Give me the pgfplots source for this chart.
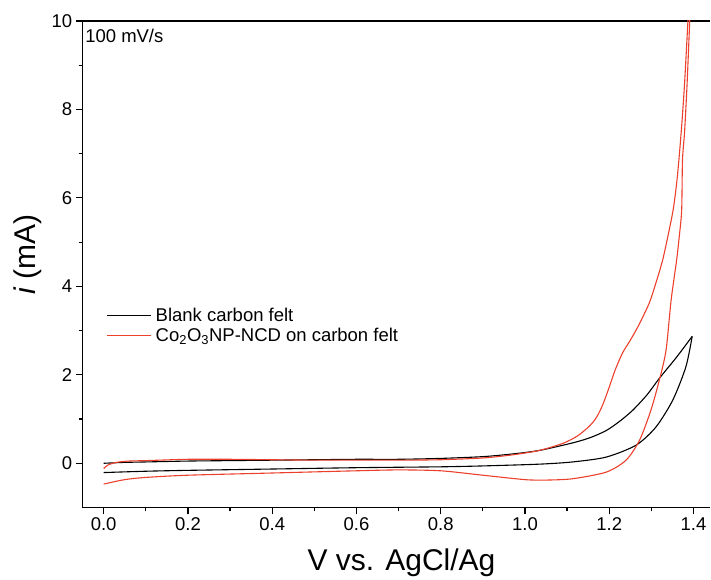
\documentclass[border=0pt]{standalone}
\usepackage{fontspec}
\setmainfont{Liberation Sans}
\usepackage{pgfplots}
\pgfplotsset{compat=1.18}
\definecolor{cvred}{RGB}{236,64,44}
\begin{document}
\begin{tikzpicture}
\begin{axis}[
  name=ax,
  scale only axis, width=628.3pt, height=487pt,
  xmin=-0.05, xmax=1.44, ymin=-1, ymax=10,
  axis x line=box, axis y line=left,
  axis line style={-, line width=1.4pt},
  xtick pos=bottom, ytick pos=left,
  tick align=outside, major tick length=7pt, minor tick length=4pt,
  tick style={line width=1.2pt, black},
  xtick={0,0.2,0.4,0.6,0.8,1.0,1.2,1.4}, ytick={0,2,4,6,8,10},
  minor x tick num=1, minor y tick num=1,
  xticklabel style={/pgf/number format/.cd, fixed, fixed zerofill, precision=1},
  /pgf/number format/assume math mode=true,
  tick label style={font=\fontsize{18.5}{22}\selectfont},
  xlabel={V vs. AgCl/Ag}, ylabel={\textit{i} (mA)},
  label style={font=\fontsize{30}{34}\selectfont},
  xlabel style={at={(axis description cs:0.508,-0.113)}, anchor=center},
  ylabel style={at={(axis description cs:-0.087,0.52)}, anchor=center},
  legend style={draw=none, fill=none, at={(axis description cs:0.038,0.414)}, anchor=north west,
    font=\fontsize{18.5}{22}\selectfont, inner sep=0pt, row sep=1pt,
    nodes={inner xsep=4pt}},
  legend cell align=left,
  legend image code/.code={\draw[#1] (0pt,0pt) -- (44pt,0pt);},
]
% black forward
\addplot[black, line width=1.1pt, smooth, tension=0.45] coordinates {
(0.0,0.00)(0.05,0.02)(0.1,0.03)(0.2,0.05)(0.3,0.06)(0.4,0.07)(0.5,0.08)(0.6,0.09)(0.7,0.09)(0.8,0.11)(0.9,0.15)(0.97,0.21)(1.034,0.29)(1.113,0.46)(1.155,0.58)(1.193,0.74)(1.225,0.95)(1.256,1.2)(1.29,1.55)(1.319,1.92)(1.36,2.4)(1.397,2.87)};
\addlegendentry{Blank carbon felt}
% red forward
\addplot[cvred, line width=1.1pt, smooth, tension=0.45] coordinates {
(0.0,-0.12)(0.01,-0.04)(0.03,0.02)(0.06,0.05)(0.1,0.06)(0.2,0.09)(0.3,0.09)(0.4,0.08)(0.5,0.07)(0.6,0.07)(0.7,0.07)(0.8,0.08)(0.9,0.12)(0.97,0.19)(1.034,0.29)(1.09,0.45)(1.125,0.62)(1.153,0.84)(1.17,1.04)(1.185,1.33)(1.2,1.72)(1.215,2.13)(1.232,2.5)(1.25,2.78)(1.27,3.12)(1.295,3.62)(1.31,4.05)(1.327,4.6)(1.343,5.3)(1.353,5.8)(1.362,6.5)(1.371,7.5)(1.379,8.6)(1.388,10.2)};
\addlegendentry{Co\textsubscript{2}O\textsubscript{3}NP-NCD on carbon felt}
% black reverse
\addplot[black, line width=1.1pt, smooth, tension=0.45, forget plot] coordinates {
(1.397,2.87)(1.382,2.18)(1.351,1.43)(1.311,0.82)(1.264,0.41)(1.193,0.14)(1.113,0.03)(1.034,-0.02)(0.9,-0.06)(0.8,-0.08)(0.6,-0.1)(0.4,-0.13)(0.2,-0.16)(0.1,-0.18)(0.0,-0.21)};
% red reverse
\addplot[cvred, line width=1.1pt, smooth, tension=0.45, forget plot] coordinates {
(1.392,10.2)(1.385,8.6)(1.379,7.5)(1.374,6.86)(1.372,5.72)(1.366,5.1)(1.36,4.59)(1.347,3.69)(1.335,2.56)(1.319,1.88)(1.299,1.2)(1.272,0.52)(1.24,0.07)(1.193,-0.2)(1.113,-0.35)(1.05,-0.38)(1.0,-0.37)(0.9,-0.27)(0.8,-0.17)(0.7,-0.15)(0.6,-0.17)(0.4,-0.22)(0.2,-0.27)(0.1,-0.32)(0.05,-0.37)(0.0,-0.47)};
\node[anchor=north west, inner sep=0pt, font=\fontsize{18.5}{22}\selectfont] at (rel axis cs:0.004,0.984) {100 mV/s};
\end{axis}
\path ([xshift=-82.7pt,yshift=21pt]ax.north west) -- ([yshift=-71pt]ax.south east);
\end{tikzpicture}
\end{document}
